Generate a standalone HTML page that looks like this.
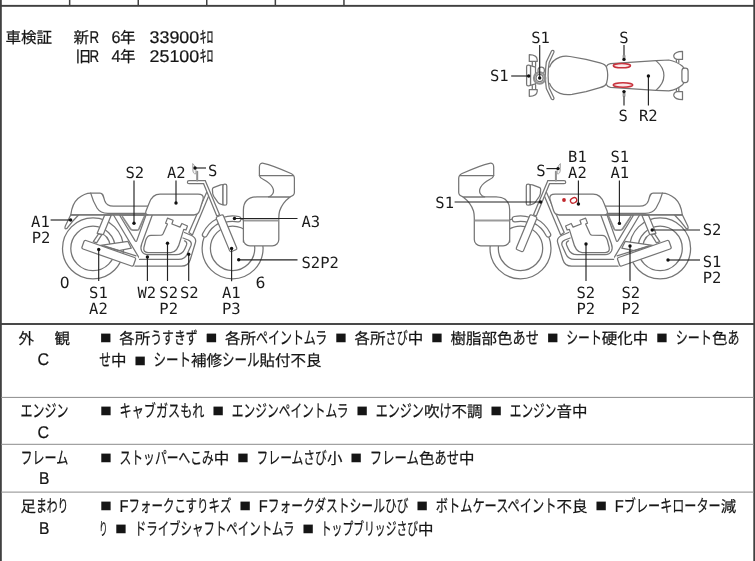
<!DOCTYPE html>
<html lang="ja"><head><meta charset="utf-8"><title>車検証</title>
<style>
html,body{margin:0;padding:0;background:#fff}
body{width:755px;height:561px;overflow:hidden;position:relative}
svg{position:absolute;left:0;top:0;display:block}
.lb,.jp{filter:grayscale(1);text-rendering:geometricPrecision}
.jp text{font-family:"Liberation Sans","Noto Sans CJK JP",sans-serif;font-size:15.5px;fill:#151515;stroke:#151515;stroke-width:0.22px}
.lb text{font-family:"DejaVu Sans Mono","Liberation Mono",monospace;font-size:15.5px;fill:#1a1a1a}
.bk{stroke:#757575;stroke-width:1.25;stroke-linejoin:round;stroke-linecap:round}
</style></head><body>
<svg width="755" height="561" viewBox="0 0 755 561">
<g stroke="#222" fill="none">
<rect x="0" y="-5" width="1.8" height="580" fill="#404040" stroke="none"/>
<rect x="753.3" y="-5" width="1.7" height="580" fill="#404040" stroke="none"/>
<rect x="0" y="4.9" width="755" height="1.9" fill="#404040" stroke="none"/>
<rect x="0" y="323.05" width="755" height="1.9" fill="#404040" stroke="none"/>
<g stroke="none" fill="#404040">
<rect x="68.9" y="0" width="1.5" height="5.5"/><rect x="137.5" y="0" width="1.5" height="5.5"/><rect x="206" y="0" width="1.5" height="5.5"/><rect x="274.6" y="0" width="1.5" height="5.5"/><rect x="343.2" y="0" width="1.5" height="5.5"/>
</g>
<g stroke="none" fill="#8c8c8c">
<rect x="1" y="396.9" width="753" height="1"/><rect x="1" y="443.8" width="753" height="1"/><rect x="1" y="491.6" width="753" height="1"/>
</g>
</g>
<g class="bk">
<circle cx="93" cy="248.4" r="30.5" fill="none"/>
<circle cx="93" cy="248.4" r="22.2" fill="none"/>
<path d="M98.5,231.8 A17.5,17.5 0 0 1 110.3,245.5" fill="none"/>
<circle cx="232.6" cy="248.3" r="30.5" fill="none"/>
<circle cx="232.6" cy="248.3" r="22.2" fill="none"/>
<path d="M70.8,214.8 L65.2,226.3 Q64.2,229.8 67,228.4 Q72,221.5 78.8,214.8 Z" fill="#fff"/>
<path d="M100.5,245.4 L128,241.4 L131.3,248.2 L119,250.6 Z" fill="#fff"/>
<path d="M104,245.8 L136,255.8" fill="none"/>
<path d="M98.7,233.6 L93.3,241.6 L96.6,242.8 L101.8,234.6 Z" fill="#fff"/>
<path d="M104.7,215 L97.2,233.3 L103.2,234.7 L111.3,215 Z" fill="#fff"/>
<path d="M113.5,215 L139.3,258 L148,254.7 Q143.5,254.5 141.6,251 Q140.2,248 141.8,243.5 L152.3,215 Z" fill="#fff" stroke="none"/>
<path d="M113.5,215 L139.5,258.5" fill="none"/>
<path d="M119.5,215 L135,240.6 Q136.1,242.2 136.9,240.4 L146,215 Z" fill="#fff"/>
<path d="M122.4,216.6 L130.4,228.8 Q131.2,230.1 133,230.1 L137,230.1 Q138.6,230.1 139.1,228.7 L144.4,216.6" fill="none" stroke-width="1.7" stroke="#8a8a8a"/>
<path d="M184.5,232.5 L191,235.3 Q197,238 195.3,243 L190.3,259.5 Q188.3,266.2 181.5,266.2 L137,266.2 L139.5,254.7 L176,254.7 Q182.5,254.7 185,248.5 L186.5,245 Q187.5,242 184.5,240.8 Z" fill="#fff" stroke="none"/>
<path d="M184.5,232.5 L191,235.3 Q197,238 195.3,243 L190.3,259.5 Q188.3,266.2 181.5,266.2 L135,266.2" fill="none"/>
<path d="M183,238 L188.2,240 Q192.3,241.7 191,245.5 L187.2,254 Q185,259.4 178.5,259.4 L139.5,259.4" fill="none"/>
<path d="M152.3,215 L141.8,243.5 Q140.2,248 141.6,251 Q143.5,254.5 148,254.7 L176,254.7 Q182.5,254.7 185,248.5 L186.5,245 Q187.5,242 184.5,240.8" fill="none"/>
<path d="M206.9,191.8 L188.9,232.6 L192.4,235 L208.7,196.1" fill="#fff"/>
<path d="M163.1,233.75 L167.5,224 L165.6,223.1 L167.5,218.1 L173.1,220.25 L171.9,224 L180,227.1 L181.9,223.5 L187.5,226 L186,230 L183.75,229.4 L180.3,240.5 Q177.5,252.5 171,252.5 L148,252.5 Q143,252.5 143.9,247.5 L145.8,240 Q147.3,235.4 151,235.3 L161.3,235.1 Q162.5,235 163.1,233.75 Z" fill="#fff"/>
<rect x="-27.3" y="-4.5" width="54.6" height="9.0" rx="1.6" fill="#fff" transform="translate(108.75,253.25) rotate(19.3)"/>
<path d="M70.8,214.8 C71.5,209 74,202 78,198.5 C82,195 86,193 91,193 L100,193 C103,193 103.4,196 104.6,200.5 C106,205 109,206.2 113.5,206.2 L148,206.2 L148,214.8 Z" fill="#fff"/>
<path d="M90.7,193.2 C92,198 94,203 97,208 C99.5,212 102.5,213.3 108,213.3 L146,213.3" fill="none"/>
<path d="M70.8,214.8 L194,214.8" fill="none"/>
<path d="M160,194 L198,194 Q204,194 203.2,199 L199.6,210.5 Q198.2,214.8 194,214.8 L149,214.8 Q144.6,214.8 146,211 L149.2,203 Q152.3,194 160,194 Z" fill="#fff"/>
<path d="M222.59,217.49 A32.4,32.4 0 0 1 238.78,216.50 A2.70,2.70 0 0 1 237.75,221.80 A27.0,27.0 0 0 0 224.26,222.62 Z" fill="#fff"/>
<path d="M202.58,233.66 A33.4,33.4 0 0 1 217.96,218.28 L220.06,222.59 A28.6,28.6 0 0 0 206.89,235.76 A2.40,2.40 0 0 1 202.58,233.66 Z" fill="#fff"/>
<path d="M203.6,183.7 L216.8,216 L219.6,214.7 L205.3,180.8" fill="#fff"/>
<rect x="-3.85" y="0" width="7.7" height="37.6" rx="1.6" fill="#fff" transform="translate(219.35,215.9) rotate(-22.5)"/>
<path d="M205.3,180.7 L189,180.7 Q187.4,180.7 187.4,182.2 Q187.4,183.7 189,183.7 L203.6,183.7" fill="#fff"/>
<path d="M197.2,171.8 L197.2,180.6" fill="none" stroke-width="2" stroke="#8f8f8f"/>
<path d="M193,163.8 Q196.4,166.5 196,173.8 Q192.6,174.4 192.8,169 Z" fill="#f2f2f2" stroke="#a5a5a5" stroke-width="1"/>
<path d="M223,184.5 L220.6,184.8 L213.4,187.6 Q212.4,188.1 212.4,189.4 L212.7,193.4 Q213,195.2 213.9,196.6 L217.9,202.3 Q218.7,203.4 220,203.9 L223,205 Z" fill="#fff"/>
<rect x="223" y="184.2" width="3.8" height="21" rx="1.8" fill="#fff"/>
<path d="M243.4,242 L243.4,210 Q243.6,197 257,196.9 L290,196.9 Q282,203 279.6,211 Q278.8,214 278.8,218 L278.8,239.4 A6.5,6.5 0 0 1 272.3,245.9 L249.9,245.9 A6.5,6.5 0 0 1 243.4,239.4 Z" fill="#fff"/>
<path d="M244,220.5 L278.2,220.5" fill="none" stroke="#9a9a9a" stroke-width="2.2" stroke-linecap="butt"/>
<path d="M259.4,175.6 L259.4,167 Q259.4,162.6 263.5,163.3 Q272,165 291,173.5 Q294.4,175 294.4,178.5 L294.4,192.5 Q294.4,195.5 290,196.9 L268.5,196.9 Q271,196.5 272.6,194 Q274.6,191 272.3,187 Q270,183 263.5,179.5 Q260,178 259.4,175.6 Z" fill="#fff"/>
<path d="M259.4,175.6 L293.5,175.6" fill="none"/>
</g>
<g class="bk" transform="translate(753.1,0) scale(-1,1)">
<circle cx="93" cy="248.4" r="30.5" fill="none"/>
<circle cx="93" cy="248.4" r="22.2" fill="none"/>
<path d="M98.5,231.8 A17.5,17.5 0 0 1 110.3,245.5" fill="none"/>
<circle cx="232.6" cy="248.3" r="30.5" fill="none"/>
<circle cx="232.6" cy="248.3" r="22.2" fill="none"/>
<path d="M70.8,214.8 L65.2,226.3 Q64.2,229.8 67,228.4 Q72,221.5 78.8,214.8 Z" fill="#fff"/>
<path d="M100.5,245.4 L128,241.4 L131.3,248.2 L119,250.6 Z" fill="#fff"/>
<path d="M104,245.8 L136,255.8" fill="none"/>
<path d="M98.7,233.6 L93.3,241.6 L96.6,242.8 L101.8,234.6 Z" fill="#fff"/>
<path d="M104.7,215 L97.2,233.3 L103.2,234.7 L111.3,215 Z" fill="#fff"/>
<path d="M113.5,215 L139.3,258 L148,254.7 Q143.5,254.5 141.6,251 Q140.2,248 141.8,243.5 L152.3,215 Z" fill="#fff" stroke="none"/>
<path d="M113.5,215 L139.5,258.5" fill="none"/>
<path d="M119.5,215 L135,240.6 Q136.1,242.2 136.9,240.4 L146,215 Z" fill="#fff"/>
<path d="M122.4,216.6 L130.4,228.8 Q131.2,230.1 133,230.1 L137,230.1 Q138.6,230.1 139.1,228.7 L144.4,216.6" fill="none" stroke-width="1.7" stroke="#8a8a8a"/>
<path d="M184.5,232.5 L191,235.3 Q197,238 195.3,243 L190.3,259.5 Q188.3,266.2 181.5,266.2 L137,266.2 L139.5,254.7 L176,254.7 Q182.5,254.7 185,248.5 L186.5,245 Q187.5,242 184.5,240.8 Z" fill="#fff" stroke="none"/>
<path d="M184.5,232.5 L191,235.3 Q197,238 195.3,243 L190.3,259.5 Q188.3,266.2 181.5,266.2 L135,266.2" fill="none"/>
<path d="M183,238 L188.2,240 Q192.3,241.7 191,245.5 L187.2,254 Q185,259.4 178.5,259.4 L139.5,259.4" fill="none"/>
<path d="M152.3,215 L141.8,243.5 Q140.2,248 141.6,251 Q143.5,254.5 148,254.7 L176,254.7 Q182.5,254.7 185,248.5 L186.5,245 Q187.5,242 184.5,240.8" fill="none"/>
<path d="M206.9,191.8 L188.9,232.6 L192.4,235 L208.7,196.1" fill="#fff"/>
<path d="M163.1,233.75 L167.5,224 L165.6,223.1 L167.5,218.1 L173.1,220.25 L171.9,224 L180,227.1 L181.9,223.5 L187.5,226 L186,230 L183.75,229.4 L180.3,240.5 Q177.5,252.5 171,252.5 L148,252.5 Q143,252.5 143.9,247.5 L145.8,240 Q147.3,235.4 151,235.3 L161.3,235.1 Q162.5,235 163.1,233.75 Z" fill="#fff"/>
<rect x="-27.3" y="-4.5" width="54.6" height="9.0" rx="1.6" fill="#fff" transform="translate(108.75,253.25) rotate(19.3)"/>
<path d="M70.8,214.8 C71.5,209 74,202 78,198.5 C82,195 86,193 91,193 L100,193 C103,193 103.4,196 104.6,200.5 C106,205 109,206.2 113.5,206.2 L148,206.2 L148,214.8 Z" fill="#fff"/>
<path d="M90.7,193.2 C92,198 94,203 97,208 C99.5,212 102.5,213.3 108,213.3 L146,213.3" fill="none"/>
<path d="M70.8,214.8 L194,214.8" fill="none"/>
<path d="M160,194 L198,194 Q204,194 203.2,199 L199.6,210.5 Q198.2,214.8 194,214.8 L149,214.8 Q144.6,214.8 146,211 L149.2,203 Q152.3,194 160,194 Z" fill="#fff"/>
<path d="M222.59,217.49 A32.4,32.4 0 0 1 238.78,216.50 A2.70,2.70 0 0 1 237.75,221.80 A27.0,27.0 0 0 0 224.26,222.62 Z" fill="#fff"/>
<path d="M202.58,233.66 A33.4,33.4 0 0 1 217.96,218.28 L220.06,222.59 A28.6,28.6 0 0 0 206.89,235.76 A2.40,2.40 0 0 1 202.58,233.66 Z" fill="#fff"/>
<path d="M203.6,183.7 L216.8,216 L219.6,214.7 L205.3,180.8" fill="#fff"/>
<rect x="-3.85" y="0" width="7.7" height="37.6" rx="1.6" fill="#fff" transform="translate(219.35,215.9) rotate(-22.5)"/>
<path d="M205.3,180.7 L189,180.7 Q187.4,180.7 187.4,182.2 Q187.4,183.7 189,183.7 L203.6,183.7" fill="#fff"/>
<path d="M197.2,171.8 L197.2,180.6" fill="none" stroke-width="2" stroke="#8f8f8f"/>
<path d="M193,163.8 Q196.4,166.5 196,173.8 Q192.6,174.4 192.8,169 Z" fill="#f2f2f2" stroke="#a5a5a5" stroke-width="1"/>
<path d="M223,184.5 L220.6,184.8 L213.4,187.6 Q212.4,188.1 212.4,189.4 L212.7,193.4 Q213,195.2 213.9,196.6 L217.9,202.3 Q218.7,203.4 220,203.9 L223,205 Z" fill="#fff"/>
<rect x="223" y="184.2" width="3.8" height="21" rx="1.8" fill="#fff"/>
<path d="M243.4,242 L243.4,210 Q243.6,197 257,196.9 L290,196.9 Q282,203 279.6,211 Q278.8,214 278.8,218 L278.8,239.4 A6.5,6.5 0 0 1 272.3,245.9 L249.9,245.9 A6.5,6.5 0 0 1 243.4,239.4 Z" fill="#fff"/>
<path d="M244,220.5 L278.2,220.5" fill="none" stroke="#9a9a9a" stroke-width="2.2" stroke-linecap="butt"/>
<path d="M259.4,175.6 L259.4,167 Q259.4,162.6 263.5,163.3 Q272,165 291,173.5 Q294.4,175 294.4,178.5 L294.4,192.5 Q294.4,195.5 290,196.9 L268.5,196.9 Q271,196.5 272.6,194 Q274.6,191 272.3,187 Q270,183 263.5,179.5 Q260,178 259.4,175.6 Z" fill="#fff"/>
<path d="M259.4,175.6 L293.5,175.6" fill="none"/>
</g>
<g class="bk">
<path d="M606.6,66.3 Q607.6,64 610.5,63.7 L656,60.7 L668.8,60 Q677,61.5 682.5,66.3 Q685.3,69 685.3,75.5 Q685.3,82 682.5,84.7 Q677,89.6 668.8,90.9 L656,90.3 L610.5,87.4 Q607.6,87 606.6,84.7" fill="#fff"/>
<path d="M656.2,60.9 Q663.9,67.5 663.9,75.5 Q663.9,83.5 656.2,90.1" fill="none"/>
<rect x="681.9" y="68.2" width="6.2" height="14.4" rx="2.8" fill="#fff"/>
<path d="M549.6,67 C551,63 555,59 560,57.2 C563,56.1 566,55.9 570,56.5 L586,59.4 L600,62.8 C604,63.8 606,65 606.6,67.5 C607.9,72 607.9,78.5 606.6,83 C606,85.5 604,86.6 600,87.6 L586,91.6 L572,94.4 C568,95 564,94.8 560,93.3 C555,91.4 551,87.5 549.6,83.4" fill="#fff"/>
<path d="M676.4,59.4 L676.4,62.1 M678.8,59.4 L678.8,62.6" fill="none"/>
<path d="M682.5,51.3 L682.5,59.4 L677,59.4 Q673.4,58.3 673.8,55.3 Q675,51.5 682.5,51.3 Z" fill="#fff"/>
<path d="M676.4,91.6 L676.4,88.9 M678.8,91.6 L678.8,88.4" fill="none"/>
<path d="M682.5,99.7 L682.5,91.6 L677,91.6 Q673.4,92.7 673.8,95.7 Q675,99.5 682.5,99.7 Z" fill="#fff"/>
<path transform="translate(0.9,0)" d="M550.6,50.9 Q551.6,50 552.6,50.6 Q553.4,51.2 553,52.2 L548.3,62.5 Q547.2,69 547.2,75.5 Q547.2,82 548.3,88 L553,97.8 Q553.4,98.8 552.6,99.4 Q551.6,100 550.6,99.1 L545.4,88.5 Q544.5,82 544.5,75.5 Q544.5,69 545.4,62 Z" fill="#fff"/>
<path d="M532.3,61.4 L532.3,65.3 M535.6,61.4 L535.6,66.3" fill="none"/>
<path d="M529.3,54.7 Q536.8,54.9 537.2,59.5 L537.2,61.4 L529.3,61.4 Z" fill="#fff"/>
<path d="M532.3,89.6 L532.3,85.7 M535.6,89.6 L535.6,84.7" fill="none"/>
<path d="M529.3,96.3 Q536.8,96.1 537.2,91.5 L537.2,89.6 L529.3,89.6 Z" fill="#fff"/>
<path d="M530.5,65.6 L535.5,67.2 L535.5,83.8 L530.5,85.4 Z" fill="#fff"/>
<rect x="526.6" y="65.2" width="3.9" height="20.6" rx="1.6" fill="#fff"/>
<circle cx="541.2" cy="70.4" r="3.2" fill="#fff"/>
<circle cx="539.6" cy="78" r="5.6" fill="#fff" stroke-width="2.3" stroke="#909090"/>
<circle cx="539.6" cy="78" r="3.6" fill="#fff"/>
<rect x="622.8" y="55.4" width="2.5" height="4" fill="#9a9a9a" stroke="none"/>
<rect x="622.8" y="92" width="2.5" height="4.6" fill="#9a9a9a" stroke="none"/>
<ellipse cx="621.9" cy="65.7" rx="8.6" ry="2.1" fill="#fbe9ea" stroke="#c8323c" stroke-width="1.5"/>
<ellipse cx="623" cy="85" rx="9.8" ry="2.2" fill="#fbe9ea" stroke="#c8323c" stroke-width="1.5"/>
</g>
<g fill="none" stroke="#c1272d">
<circle cx="564" cy="200" r="1.9" fill="#c1272d" stroke="none"/>
<ellipse cx="573.6" cy="200.4" rx="3.3" ry="2.6" stroke-width="1.3" transform="rotate(-25 573.6 200.4)"/>
</g>
<g class="lb">
<line x1="70.6" y1="220" x2="50.6" y2="220" stroke="#222" stroke-width="1.15"/>
<circle cx="70.6" cy="220" r="1.7" fill="#111"/>
<line x1="98.7" y1="249.5" x2="98.7" y2="281" stroke="#222" stroke-width="1.15"/>
<circle cx="98.7" cy="249.5" r="1.7" fill="#111"/>
<line x1="147.4" y1="257" x2="147.4" y2="281" stroke="#222" stroke-width="1.15"/>
<circle cx="147.4" cy="257" r="1.7" fill="#111"/>
<line x1="167.5" y1="243.2" x2="167.5" y2="281" stroke="#222" stroke-width="1.15"/>
<circle cx="167.5" cy="243.2" r="1.7" fill="#111"/>
<line x1="188.7" y1="254.3" x2="188.7" y2="281" stroke="#222" stroke-width="1.15"/>
<circle cx="188.7" cy="254.3" r="1.7" fill="#111"/>
<line x1="134" y1="223.3" x2="134" y2="180.6" stroke="#222" stroke-width="1.15"/>
<circle cx="134" cy="223.3" r="1.7" fill="#111"/>
<line x1="176" y1="203" x2="176" y2="180.6" stroke="#222" stroke-width="1.15"/>
<circle cx="176" cy="203" r="1.7" fill="#111"/>
<line x1="195" y1="168" x2="206" y2="168" stroke="#222" stroke-width="1.15"/>
<circle cx="195" cy="168" r="1.7" fill="#111"/>
<line x1="231.6" y1="248.5" x2="231.6" y2="281.2" stroke="#222" stroke-width="1.15"/>
<circle cx="231.6" cy="248.5" r="1.7" fill="#111"/>
<line x1="234.5" y1="218.5" x2="297.5" y2="218.5" stroke="#222" stroke-width="1.15"/>
<circle cx="234.5" cy="218.5" r="1.7" fill="#111"/>
<line x1="238.7" y1="259.8" x2="297.5" y2="259.8" stroke="#222" stroke-width="1.15"/>
<circle cx="238.7" cy="259.8" r="1.7" fill="#111"/>
<line x1="540.6" y1="202" x2="454.6" y2="202" stroke="#222" stroke-width="1.15"/>
<circle cx="540.6" cy="202" r="1.7" fill="#111"/>
<line x1="558" y1="168.6" x2="546.4" y2="168.6" stroke="#222" stroke-width="1.15"/>
<circle cx="558" cy="168.6" r="1.7" fill="#111"/>
<line x1="578.4" y1="204" x2="578.4" y2="180.4" stroke="#222" stroke-width="1.15"/>
<circle cx="578.4" cy="204" r="1.7" fill="#111"/>
<line x1="619.4" y1="223.4" x2="619.4" y2="180.4" stroke="#222" stroke-width="1.15"/>
<circle cx="619.4" cy="223.4" r="1.7" fill="#111"/>
<line x1="652.2" y1="230" x2="700" y2="230" stroke="#222" stroke-width="1.15"/>
<circle cx="652.2" cy="230" r="1.7" fill="#111"/>
<line x1="668" y1="260" x2="700" y2="260" stroke="#222" stroke-width="1.15"/>
<circle cx="668" cy="260" r="1.7" fill="#111"/>
<line x1="586" y1="244" x2="586" y2="281" stroke="#222" stroke-width="1.15"/>
<circle cx="586" cy="244" r="1.7" fill="#111"/>
<line x1="630" y1="246" x2="630" y2="281" stroke="#222" stroke-width="1.15"/>
<circle cx="630" cy="246" r="1.7" fill="#111"/>
<line x1="539.7" y1="78" x2="539.7" y2="45" stroke="#222" stroke-width="1.15"/>
<circle cx="539.7" cy="78" r="1.7" fill="#111"/>
<line x1="528.7" y1="76" x2="511.2" y2="76" stroke="#222" stroke-width="1.15"/>
<circle cx="528.7" cy="76" r="1.7" fill="#111"/>
<line x1="624" y1="59.4" x2="624" y2="45" stroke="#222" stroke-width="1.15"/>
<circle cx="624" cy="59.4" r="1.7" fill="#111"/>
<line x1="624" y1="91.6" x2="624" y2="105.5" stroke="#222" stroke-width="1.15"/>
<circle cx="624" cy="91.6" r="1.7" fill="#111"/>
<line x1="648.4" y1="76" x2="648.4" y2="105.5" stroke="#222" stroke-width="1.15"/>
<circle cx="648.4" cy="76" r="1.7" fill="#111"/>
<text x="31.1" y="226.7">A1</text>
<text x="31.7" y="242.7">P2</text>
<text x="59.7" y="288.2" style="font-family:'DejaVu Sans','Liberation Sans',sans-serif">0</text>
<text x="89.1" y="298.3">S1</text>
<text x="89.1" y="314.2">A2</text>
<text x="137.5" y="298.3">W2</text>
<text x="159.3" y="298.3">S2</text>
<text x="159.3" y="314.2">P2</text>
<text x="179.9" y="298.3">S2</text>
<text x="125.5" y="178.4">S2</text>
<text x="166.9" y="178.4">A2</text>
<text x="208.1" y="175.8">S</text>
<text x="222.0" y="298.3">A1</text>
<text x="222.0" y="314.2">P3</text>
<text x="255.5" y="288.4" style="font-family:'DejaVu Sans','Liberation Sans',sans-serif">6</text>
<text x="301.5" y="226.7">A3</text>
<text x="301.5" y="267.7">S2P2</text>
<text x="435.3" y="207.8">S1</text>
<text x="536.3" y="175.8">S</text>
<text x="568.1" y="162">B1</text>
<text x="568.1" y="178">A2</text>
<text x="610.5" y="162">S1</text>
<text x="610.5" y="178">A1</text>
<text x="702.7" y="235.3">S2</text>
<text x="702.7" y="267">S1</text>
<text x="702.7" y="283">P2</text>
<text x="576.5" y="297.8">S2</text>
<text x="576.5" y="313.8">P2</text>
<text x="621.5" y="297.8">S2</text>
<text x="621.5" y="313.8">P2</text>
<text x="531.2" y="43.2">S1</text>
<text x="489.9" y="81.2">S1</text>
<text x="619.3" y="42.7">S</text>
<text x="618.5" y="121.3">S</text>
<text x="638.9" y="121.3">R2</text>
</g>
<rect x="622.7" y="55.2" width="2.6" height="2.6" fill="#9a9a9a"/><rect x="622.7" y="93.4" width="2.6" height="3" fill="#9a9a9a"/>
<g class="jp">
<text y="343.7"><tspan x="100.0" dy="-0.8" style="font-size:17px" textLength="11.4" lengthAdjust="spacingAndGlyphs">■</tspan><tspan x="119.3" dy="0.8" textLength="31.0" lengthAdjust="spacingAndGlyphs">各所</tspan><tspan x="150.3" style="font-size:17.4px" textLength="47.3" lengthAdjust="spacingAndGlyphs">うすきず</tspan><tspan x="205.7" dy="-0.8" style="font-size:17px" textLength="11.4" lengthAdjust="spacingAndGlyphs">■</tspan><tspan x="225.0" dy="0.8" textLength="31.0" lengthAdjust="spacingAndGlyphs">各所</tspan><tspan x="256.0" style="font-size:17.4px" textLength="71.2" lengthAdjust="spacingAndGlyphs">ペイントムラ</tspan><tspan x="335.3" dy="-0.8" style="font-size:17px" textLength="11.4" lengthAdjust="spacingAndGlyphs">■</tspan><tspan x="354.6" dy="0.8" textLength="31.0" lengthAdjust="spacingAndGlyphs">各所</tspan><tspan x="385.6" style="font-size:17.4px" textLength="22.1" lengthAdjust="spacingAndGlyphs">さび</tspan><tspan x="407.7" textLength="15.5" lengthAdjust="spacingAndGlyphs">中</tspan><tspan x="431.3" dy="-0.8" style="font-size:17px" textLength="11.4" lengthAdjust="spacingAndGlyphs">■</tspan><tspan x="450.6" dy="0.8" textLength="62.0" lengthAdjust="spacingAndGlyphs">樹脂部色</tspan><tspan x="512.6" style="font-size:17.4px" textLength="26.3" lengthAdjust="spacingAndGlyphs">あせ</tspan><tspan x="547.0" dy="-0.8" style="font-size:17px" textLength="11.4" lengthAdjust="spacingAndGlyphs">■</tspan><tspan x="566.3" dy="0.8" style="font-size:17.4px" textLength="35.4" lengthAdjust="spacingAndGlyphs">シート</tspan><tspan x="601.7" textLength="46.5" lengthAdjust="spacingAndGlyphs">硬化中</tspan><tspan x="656.3" dy="-0.8" style="font-size:17px" textLength="11.4" lengthAdjust="spacingAndGlyphs">■</tspan><tspan x="675.8" dy="0.8" style="font-size:17.4px" textLength="36.1" lengthAdjust="spacingAndGlyphs">シート</tspan><tspan x="711.9" textLength="15.5" lengthAdjust="spacingAndGlyphs">色</tspan><tspan x="727.4" style="font-size:17.4px" textLength="12.0" lengthAdjust="spacingAndGlyphs">あ</tspan></text>
<text y="366.4"><tspan x="99.2" style="font-size:17.4px" textLength="11.7" lengthAdjust="spacingAndGlyphs">せ</tspan><tspan x="110.9" textLength="15.5" lengthAdjust="spacingAndGlyphs">中</tspan><tspan x="134.5" dy="-0.8" style="font-size:17px" textLength="11.4" lengthAdjust="spacingAndGlyphs">■</tspan><tspan x="153.6" dy="0.8" style="font-size:17.4px" textLength="37.5" lengthAdjust="spacingAndGlyphs">シート</tspan><tspan x="191.1" textLength="31.0" lengthAdjust="spacingAndGlyphs">補修</tspan><tspan x="222.1" style="font-size:17.4px" textLength="37.5" lengthAdjust="spacingAndGlyphs">シール</tspan><tspan x="259.6" textLength="62.0" lengthAdjust="spacingAndGlyphs">貼付不良</tspan></text>
<text y="417"><tspan x="100.3" dy="-0.8" style="font-size:17px" textLength="11.4" lengthAdjust="spacingAndGlyphs">■</tspan><tspan x="119.6" dy="0.8" style="font-size:17.4px" textLength="84.8" lengthAdjust="spacingAndGlyphs">キャブガスもれ</tspan><tspan x="212.5" dy="-0.8" style="font-size:17px" textLength="11.4" lengthAdjust="spacingAndGlyphs">■</tspan><tspan x="231.8" dy="0.8" style="font-size:17.4px" textLength="116.6" lengthAdjust="spacingAndGlyphs">エンジンペイントムラ</tspan><tspan x="356.5" dy="-0.8" style="font-size:17px" textLength="11.4" lengthAdjust="spacingAndGlyphs">■</tspan><tspan x="375.8" dy="0.8" style="font-size:17.4px" textLength="48.1" lengthAdjust="spacingAndGlyphs">エンジン</tspan><tspan x="423.9" textLength="15.5" lengthAdjust="spacingAndGlyphs">吹</tspan><tspan x="439.4" style="font-size:17.4px" textLength="12.0" lengthAdjust="spacingAndGlyphs">け</tspan><tspan x="451.4" textLength="31.0" lengthAdjust="spacingAndGlyphs">不調</tspan><tspan x="490.5" dy="-0.8" style="font-size:17px" textLength="11.4" lengthAdjust="spacingAndGlyphs">■</tspan><tspan x="509.8" dy="0.8" style="font-size:17.4px" textLength="46.6" lengthAdjust="spacingAndGlyphs">エンジン</tspan><tspan x="556.4" textLength="31.0" lengthAdjust="spacingAndGlyphs">音中</tspan></text>
<text y="463.5"><tspan x="100.3" dy="-0.8" style="font-size:17px" textLength="11.4" lengthAdjust="spacingAndGlyphs">■</tspan><tspan x="119.6" dy="0.8" style="font-size:17.4px" textLength="94.1" lengthAdjust="spacingAndGlyphs">ストッパーへこみ</tspan><tspan x="213.7" textLength="15.5" lengthAdjust="spacingAndGlyphs">中</tspan><tspan x="237.3" dy="-0.8" style="font-size:17px" textLength="11.4" lengthAdjust="spacingAndGlyphs">■</tspan><tspan x="256.6" dy="0.8" style="font-size:17.4px" textLength="70.3" lengthAdjust="spacingAndGlyphs">フレームさび</tspan><tspan x="326.9" textLength="15.5" lengthAdjust="spacingAndGlyphs">小</tspan><tspan x="350.5" dy="-0.8" style="font-size:17px" textLength="11.4" lengthAdjust="spacingAndGlyphs">■</tspan><tspan x="369.8" dy="0.8" style="font-size:17.4px" textLength="49.1" lengthAdjust="spacingAndGlyphs">フレーム</tspan><tspan x="418.9" textLength="15.5" lengthAdjust="spacingAndGlyphs">色</tspan><tspan x="434.4" style="font-size:17.4px" textLength="24.5" lengthAdjust="spacingAndGlyphs">あせ</tspan><tspan x="458.9" textLength="15.5" lengthAdjust="spacingAndGlyphs">中</tspan></text>
<text y="511.7"><tspan x="100.3" dy="-0.8" style="font-size:17px" textLength="11.4" lengthAdjust="spacingAndGlyphs">■</tspan><tspan x="119.6" dy="0.8" style="font-size:17px" textLength="9.0" lengthAdjust="spacingAndGlyphs">F</tspan><tspan x="128.6" style="font-size:17.4px" textLength="102.8" lengthAdjust="spacingAndGlyphs">フォークこすりキズ</tspan><tspan x="239.5" dy="-0.8" style="font-size:17px" textLength="11.4" lengthAdjust="spacingAndGlyphs">■</tspan><tspan x="258.8" dy="0.8" style="font-size:17px" textLength="9.0" lengthAdjust="spacingAndGlyphs">F</tspan><tspan x="267.8" style="font-size:17.4px" textLength="140.6" lengthAdjust="spacingAndGlyphs">フォークダストシールひび</tspan><tspan x="416.5" dy="-0.8" style="font-size:17px" textLength="11.4" lengthAdjust="spacingAndGlyphs">■</tspan><tspan x="435.8" dy="0.8" style="font-size:17.4px" textLength="120.6" lengthAdjust="spacingAndGlyphs">ボトムケースペイント</tspan><tspan x="556.4" textLength="31.0" lengthAdjust="spacingAndGlyphs">不良</tspan><tspan x="595.5" dy="-0.8" style="font-size:17px" textLength="11.4" lengthAdjust="spacingAndGlyphs">■</tspan><tspan x="614.8" dy="0.8" style="font-size:17px" textLength="9.0" lengthAdjust="spacingAndGlyphs">F</tspan><tspan x="623.8" style="font-size:17.4px" textLength="96.9" lengthAdjust="spacingAndGlyphs">ブレーキローター</tspan><tspan x="720.7" textLength="15.5" lengthAdjust="spacingAndGlyphs">減</tspan></text>
<text y="534.8"><tspan x="99.0" style="font-size:17.4px" textLength="8.6" lengthAdjust="spacingAndGlyphs">り</tspan><tspan x="115.3" dy="-0.8" style="font-size:17px" textLength="11.4" lengthAdjust="spacingAndGlyphs">■</tspan><tspan x="134.8" dy="0.8" style="font-size:17.4px" textLength="159.6" lengthAdjust="spacingAndGlyphs">ドライブシャフトペイントムラ</tspan><tspan x="302.5" dy="-0.8" style="font-size:17px" textLength="11.4" lengthAdjust="spacingAndGlyphs">■</tspan><tspan x="320.8" dy="0.8" style="font-size:17.4px" textLength="97.3" lengthAdjust="spacingAndGlyphs">トップブリッジさび</tspan><tspan x="418.1" textLength="15.5" lengthAdjust="spacingAndGlyphs">中</tspan></text>
<text y="343.7"><tspan x="18.6" textLength="15.5" lengthAdjust="spacingAndGlyphs">外</tspan><tspan x="54.6" textLength="15.5" lengthAdjust="spacingAndGlyphs">観</tspan></text>
<text y="417"><tspan x="20.4" style="font-size:17.4px" textLength="48.0" lengthAdjust="spacingAndGlyphs">エンジン</tspan></text>
<text y="463.5"><tspan x="20.4" style="font-size:17.4px" textLength="48.0" lengthAdjust="spacingAndGlyphs">フレーム</tspan></text>
<text y="511.7"><tspan x="20.4" textLength="15.5" lengthAdjust="spacingAndGlyphs">足</tspan><tspan x="35.9" style="font-size:17.4px" textLength="32.5" lengthAdjust="spacingAndGlyphs">まわり</tspan></text>
<text y="364.59999999999997"><tspan x="37.4" style="font-size:17px" textLength="11.6" lengthAdjust="spacingAndGlyphs">C</tspan></text>
<text y="437.9"><tspan x="37.4" style="font-size:17px" textLength="11.6" lengthAdjust="spacingAndGlyphs">C</tspan></text>
<text y="484.4"><tspan x="38.9" style="font-size:17px" textLength="10.4" lengthAdjust="spacingAndGlyphs">B</tspan></text>
<text y="533.5"><tspan x="38.9" style="font-size:17px" textLength="10.4" lengthAdjust="spacingAndGlyphs">B</tspan></text>
<text y="42.6"><tspan x="5.6" textLength="46.5" lengthAdjust="spacingAndGlyphs">車検証</tspan></text>
<text y="42.6"><tspan x="73.6" textLength="15.5" lengthAdjust="spacingAndGlyphs">新</tspan><tspan x="89.6" style="font-size:17px" textLength="9.6" lengthAdjust="spacingAndGlyphs">R</tspan><tspan x="111.4" style="font-size:17px" textLength="9.0" lengthAdjust="spacingAndGlyphs">6</tspan><tspan x="120.0" textLength="15.5" lengthAdjust="spacingAndGlyphs">年</tspan><tspan x="149.6" style="font-size:17px" textLength="49.6" lengthAdjust="spacingAndGlyphs">33900</tspan><tspan x="199.8" style="font-size:17px" textLength="13.6" lengthAdjust="spacingAndGlyphs">ｷﾛ</tspan></text>
<text y="61.6"><tspan x="75.6" textLength="15.5" lengthAdjust="spacingAndGlyphs">旧</tspan><tspan x="89.6" style="font-size:17px" textLength="9.6" lengthAdjust="spacingAndGlyphs">R</tspan><tspan x="111.4" style="font-size:17px" textLength="9.0" lengthAdjust="spacingAndGlyphs">4</tspan><tspan x="120.0" textLength="15.5" lengthAdjust="spacingAndGlyphs">年</tspan><tspan x="149.6" style="font-size:17px" textLength="49.6" lengthAdjust="spacingAndGlyphs">25100</tspan><tspan x="199.8" style="font-size:17px" textLength="13.6" lengthAdjust="spacingAndGlyphs">ｷﾛ</tspan></text>
</g>
</svg>
</body></html>
